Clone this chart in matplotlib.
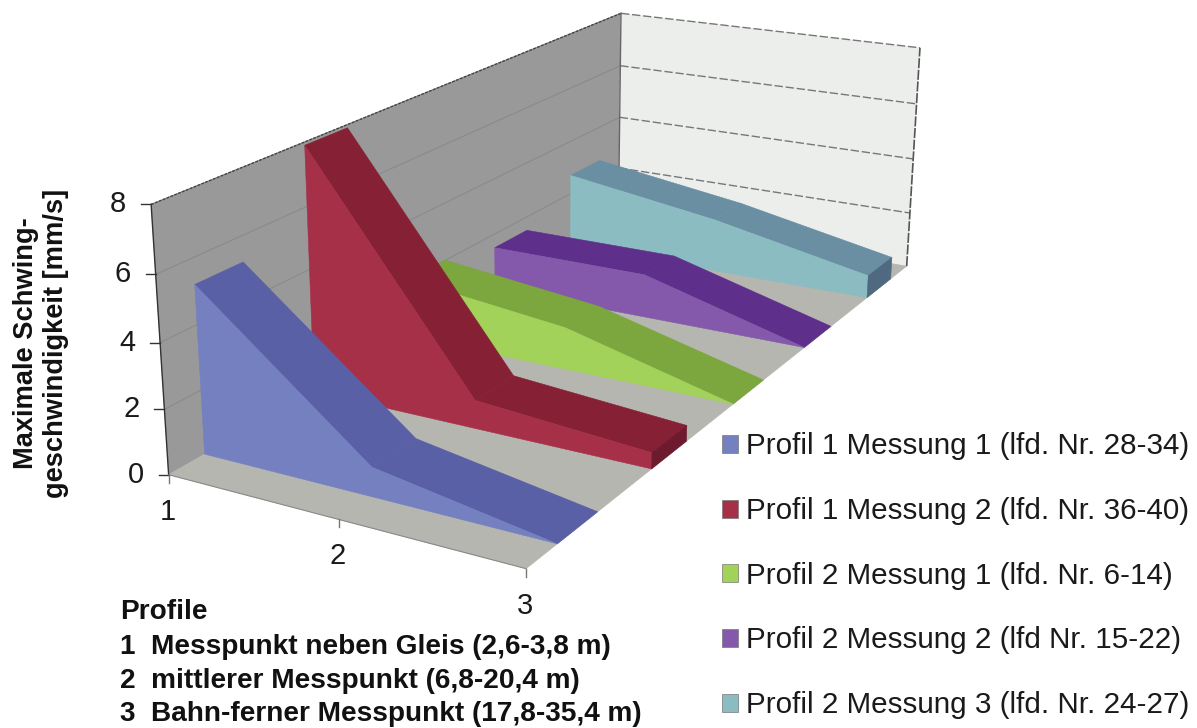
import numpy as np
import matplotlib
matplotlib.use('Agg')
import matplotlib.pyplot as plt

plt.rcParams['font.family'] = ['Liberation Sans', 'DejaVu Sans']

categories = [1, 2, 3]
y_ticks = [0, 2, 4, 6, 8]
series_names = ['Profil 1 Messung 1 (lfd. Nr. 28-34)',
                'Profil 1 Messung 2 (lfd. Nr. 36-40)',
                'Profil 2 Messung 1 (lfd. Nr. 6-14)',
                'Profil 2 Messung 2 (lfd Nr. 15-22)',
                'Profil 2 Messung 3 (lfd. Nr. 24-27)']
p1_m1 = [5.2, 0.9, 0.0]
p1_m2 = [7.9, 0.9, 0.5]
p2_m1 = [2.0, 1.4, 0.0]
p2_m2 = [1.5, 1.5, 0.0]
p2_m3 = [2.7, 1.9, 0.8]
all_series = [p1_m1, p1_m2, p2_m1, p2_m2, p2_m3]

front_cols = ['#7480c0', '#a63048', '#a2d25a', '#8458ab', '#8bbcc2']
top_cols = ['#5a60a5', '#862035', '#7ca63e', '#5e2f8b', '#6a8ea2']
end_cols = ['#4d5295', '#6e1a2e', '#6b9034', '#4f2677', '#4f6a80']
legend_text = ['Profile',
               '1  Messpunkt neben Gleis (2,6-3,8 m)',
               '2  mittlerer Messpunkt (6,8-20,4 m)',
               '3  Bahn-ferner Messpunkt (17,8-35,4 m)']

# camera fit: (category, depth 0-1, value) -> pixel, from the box corners
box = [(1, 0, 0, 168, 472), (3, 0, 0, 527, 570), (1, 1, 0, 618, 220),
       (3, 1, 0, 907, 265), (1, 0, 8, 151, 206), (1, 1, 8, 622, 12),
       (3, 1, 8, 919, 48)]
rows = []
for x, s, v, u, w in box:
    rows.append([x, s, v, 1, 0, 0, 0, 0, -u * x, -u * s, -u * v, -u])
    rows.append([0, 0, 0, 0, x, s, v, 1, -w * x, -w * s, -w * v, -w])
P = np.linalg.svd(np.array(rows, dtype=float))[2][-1].reshape(3, 4)


def project(x, s, v):
    h = P @ np.array([x, s, v, 1.0])
    return h[0] / h[2], h[1] / h[2]


def face(ax, pts, color, z, lw=0.4):
    xy = [project(*p) for p in pts]
    ax.fill(*zip(*xy), facecolor=color, edgecolor=color, linewidth=lw, zorder=z)


def line(ax, a, b, **kw):
    pa, pb = project(*a), project(*b)
    ax.plot([pa[0], pb[0]], [pa[1], pb[1]], **kw)


fig = plt.figure(figsize=(11.97, 7.28), dpi=100)
ax = fig.add_axes([0, 0, 1, 1])
ax.set_xlim(0, 1197)
ax.set_ylim(728, 0)
ax.axis('off')

# walls and floor
face(ax, [(1, 0, 0), (1, 1, 0), (1, 1, 8), (1, 0, 8)], '#999999', 1)
face(ax, [(1, 1, 0), (3, 1, 0), (3, 1, 8), (1, 1, 8)], '#eceeeb', 1)
face(ax, [(1, 0, 0), (3, 0, 0), (3, 1, 0), (1, 1, 0)], '#b5b6b0', 1)

for v in y_ticks[1:]:
    line(ax, (1, 0, v), (1, 1, v), color='#8a8a8a', lw=0.8, zorder=2)
    line(ax, (1, 1, v), (3, 1, v), color='#777777', lw=1.0, ls=(0, (6, 2)), zorder=2)
line(ax, (1, 0, 8), (1, 1, 8), color='#444444', lw=1.0, ls=(0, (2, 1)), zorder=2)
line(ax, (3, 1, 0), (3, 1, 8), color='#555555', lw=1.2, ls=(0, (6, 1)), zorder=2)
line(ax, (1, 1, 0), (1, 1, 8), color='#666666', lw=1.0, zorder=2)
line(ax, (1, 0, 0), (1, 0, 8), color='#333333', lw=1.0, zorder=2)
line(ax, (1, 0, 0), (3, 0, 0), color='#8a8a8a', lw=0.8, zorder=2)

# axis ticks
for v in y_ticks:
    px, py = project(1, 0, v)
    ax.plot([px - 10, px], [py, py], color='#333333', lw=1.0, zorder=2)
    ax.text(px - 25, py, str(v), ha='right', va='center', fontsize=21, color='#1a1a1a')
for c in categories:
    px, py = project(c, 0, 0)
    ax.plot([px, px], [py, py + 8], color='#777777', lw=1.0, zorder=2)
    ax.text(px - 1, py + 37, str(c), ha='center', va='center', fontsize=21, color='#1a1a1a')

# area bands, back to front
n = len(all_series)
for i in range(n - 1, -1, -1):
    vals = all_series[i]
    s0 = (i + 0.3) / n
    s1 = (i + 0.71) / n
    z = 10 + (n - i) * 5
    front = [(c, s0, 0) for c in categories][::-1] + [(c, s0, v) for c, v in zip(categories, vals)]
    face(ax, front, front_cols[i], z + 2)
    for j in range(len(categories) - 1):
        c0, c1 = categories[j], categories[j + 1]
        face(ax, [(c0, s0, vals[j]), (c1, s0, vals[j + 1]), (c1, s1, vals[j + 1]), (c0, s1, vals[j])],
             top_cols[i], z + 1)
    if vals[-1] > 0:
        c = categories[-1]
        face(ax, [(c, s0, 0), (c, s1, 0), (c, s1, vals[-1]), (c, s0, vals[-1])], end_cols[i], z + 3)

# legend
handles = [plt.Rectangle((0, 0), 1, 1, facecolor=col, edgecolor='#777777', linewidth=0.5) for col in front_cols]
ax.legend(handles, series_names, loc='lower left', bbox_to_anchor=(710, 731), bbox_transform=ax.transData,
          frameon=False, fontsize=21.3, labelcolor='#1a1a1a', handlelength=0.56, handleheight=0.56,
          handletextpad=0.24, labelspacing=1.24, borderpad=0.4, borderaxespad=0)

# bold notes
for t, y in zip(legend_text, [612, 647, 681, 714]):
    ax.text(120, y, t, fontsize=20.2, fontweight='bold', ha='left', va='center', color='#111111')
ax.text(41, 343, 'Maximale Schwing-\ngeschwindigkeit [mm/s]', rotation=90, fontsize=19.6, fontweight='bold',
        ha='center', va='center', linespacing=1.2, color='#111111')

fig.savefig('out.png', dpi=100)
